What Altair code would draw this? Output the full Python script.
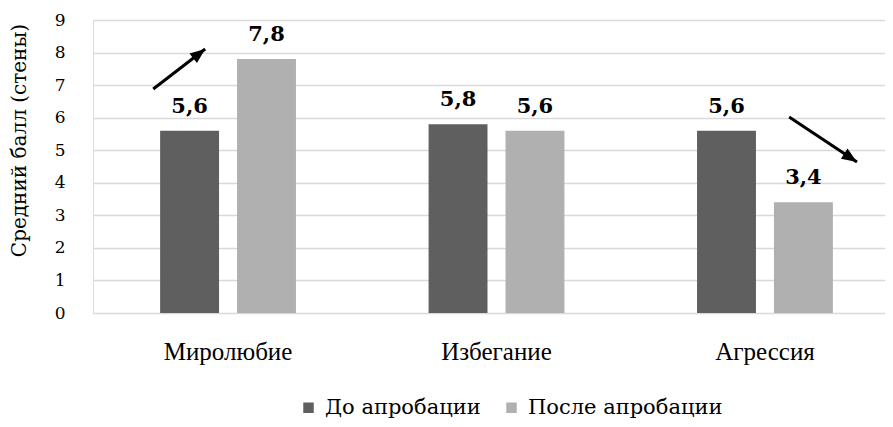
import altair as alt
import pandas as pd

categories = ["Миролюбие", "Избегание", "Агрессия"]
series = ["До апробации", "После апробации"]
before = [5.6, 5.8, 5.6]
after = [7.8, 5.6, 3.4]
y_ticks = [0, 1, 2, 3, 4, 5, 6, 7, 8, 9]
colors = ["#5f5f5f", "#b0b0b0"]

# arrow annotations in (category-units, value) coordinates
arrow_x = [0.224, 0.417]
arrow_y = [6.88, 8.11]
arrow2_x = [2.588, 2.84]
arrow2_y = [6.02, 4.64]

rows = []
for i, c in enumerate(categories):
    rows.append({"cat": c, "series": series[0], "v": before[i]})
    rows.append({"cat": c, "series": series[1], "v": after[i]})
df = pd.DataFrame(rows)
df["label"] = df["v"].map(lambda v: f"{v:.1f}".replace(".", ","))

FONT = "Liberation Serif"
FONT2 = "DejaVu Serif"
ydom = alt.Scale(domain=[0, 9], nice=False)
ytitle = "Средний балл (стены)"
yaxis = alt.Axis(title=ytitle, values=y_ticks, domain=False, ticks=False,
                 grid=True, gridColor="#d9d9d9", gridWidth=1.3,
                 labelFont=FONT2, labelFontSize=17, labelColor="#000000",
                 labelPadding=28,
                 titleFont=FONT2, titleFontSize=20, titleFontWeight="normal",
                 titleColor="#000000", titleX=-74, titleY=120,
                 titleAlign="center", titleBaseline="middle")

xscale = alt.Scale(range=[0, 807], paddingInner=0.494, paddingOuter=0.25)
xaxis = alt.Axis(title=None, labelAngle=0, domain=False, ticks=False,
                 labelFont=FONT, labelFontSize=25, labelColor="#000000",
                 labelPadding=26)
xoff = alt.XOffset("series:N", sort=series,
                   scale=alt.Scale(paddingInner=0.234, paddingOuter=0))

bars = alt.Chart(df).mark_bar().encode(
    x=alt.X("cat:N", sort=categories, scale=xscale, axis=xaxis),
    xOffset=xoff,
    y=alt.Y("v:Q", scale=ydom, axis=yaxis),
    color=alt.Color("series:N", sort=series,
                    scale=alt.Scale(domain=series, range=colors),
                    legend=alt.Legend(title=None, orient="none", direction="horizontal",
                                      legendX=205, legendY=377,
                                      symbolType="square", symbolSize=110,
                                      symbolStrokeWidth=0, symbolOpacity=1,
                                      labelFont=FONT2, labelFontSize=21, labelLimit=0,
                                      labelColor="#000000", columnPadding=20,
                                      labelOffset=6)),
)

labels = alt.Chart(df).mark_text(
    font=FONT2, fontSize=21, fontWeight="bold", baseline="alphabetic",
    dy=-18, color="#000000"
).encode(
    x=alt.X("cat:N", sort=categories, scale=xscale, axis=xaxis),
    xOffset=xoff,
    y=alt.Y("v:Q", scale=ydom, axis=yaxis),
    text="label:N",
)

base = alt.layer(bars, labels)

ax_scale = alt.Scale(domain=[0, 3], range=[0, 807], nice=False, zero=False)


def arrow(xs, ys, angle):
    d = pd.DataFrame({"x": [xs[0]], "y": [ys[0]], "x2": [xs[1]], "y2": [ys[1]]})
    line = alt.Chart(d).mark_rule(color="#000000", strokeWidth=3).encode(
        x=alt.X("x:Q", scale=ax_scale, axis=None),
        x2="x2:Q",
        y=alt.Y("y:Q", scale=ydom, axis=yaxis),
        y2="y2:Q",
    )
    head = alt.Chart(d).mark_point(
        shape="M0,0 L0.8,2 L-0.8,2 Z", filled=True, color="#000000",
        opacity=1, size=230, angle=angle, strokeWidth=0
    ).encode(
        x=alt.X("x2:Q", scale=ax_scale, axis=None),
        y=alt.Y("y2:Q", scale=ydom, axis=yaxis),
    )
    return line + head


arrows = alt.layer(arrow(arrow_x, arrow_y, 52), arrow(arrow2_x, arrow2_y, 123))

chart = alt.layer(base, arrows).resolve_scale(x="independent").properties(
    width=792, height=293,
    autosize=alt.AutoSizeParams(type="none"),
    padding={"left": 85, "top": 12, "right": 0, "bottom": 106},
).configure_view(stroke=None).configure(background="#ffffff")

chart.save("out.html", embed_options={"renderer": "svg", "actions": False})
